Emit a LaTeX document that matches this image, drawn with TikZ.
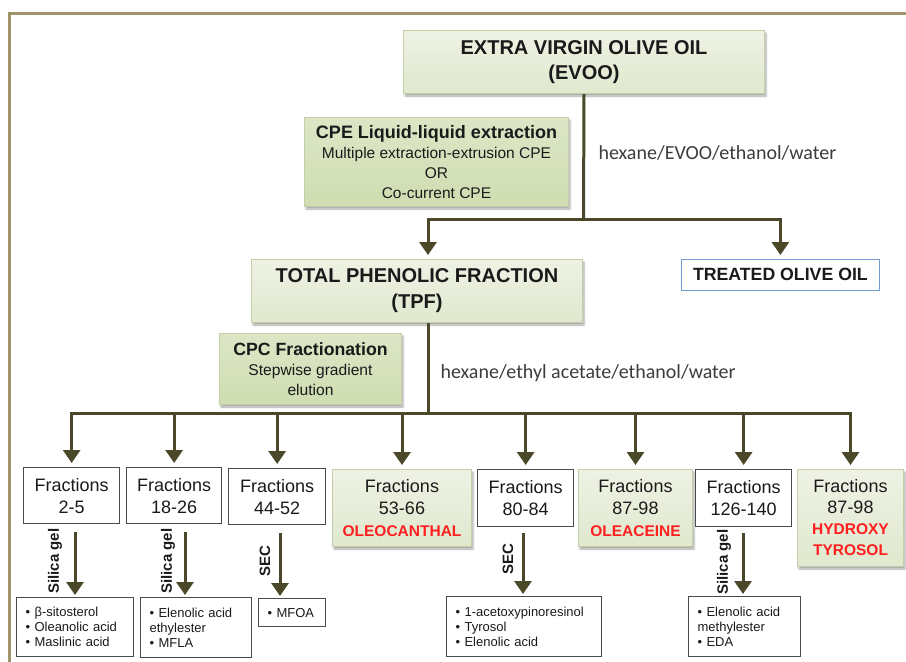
\documentclass[tikz,border=0pt]{standalone}
\usepackage{fontspec}
\setmainfont{Liberation Sans}
\newfontfamily\calfont{Carlito}
\usetikzlibrary{arrows.meta,shadows.blur}
\definecolor{figInk}{HTML}{4A4828}
\definecolor{figFrame}{HTML}{A0956A}
\definecolor{figSageTop}{HTML}{EEF2E4}
\definecolor{figSage}{HTML}{E0E8CE}
\definecolor{figMossTop}{HTML}{DCE6C6}
\definecolor{figMoss}{HTML}{CFDDB1}
\definecolor{figEdge}{HTML}{C3CFA6}
\definecolor{figGrey}{HTML}{4A4A4A}
\definecolor{figBlue}{HTML}{6F9BD2}
\definecolor{figRed}{HTML}{FF1F1F}
\definecolor{figText}{HTML}{1A1A1A}
\tikzset{
  sagebox/.style={draw=figEdge, top color=figSageTop, bottom color=figSage, line width=1pt,
                  inner sep=0pt, align=center, anchor=north west, text=figText,
                  blur shadow={shadow xshift=1.5pt, shadow yshift=-2.5pt, shadow blur radius=2pt, shadow opacity=35}},
  mossbox/.style={sagebox, top color=figMossTop, bottom color=figMoss},
  fracbox/.style={draw=figGrey, fill=white, line width=1.3pt, inner sep=0pt, align=center,
                  anchor=north west, text=figText, font=\fontsize{18}{22}\selectfont},
  listbox/.style={draw=figGrey, fill=white, line width=1.3pt, inner xsep=9pt, inner ysep=0pt,
                  align=left, anchor=north west, text=figText, font=\fontsize{13}{15}\selectfont},
  solvent/.style={anchor=west, text=figText!85, font=\calfont\fontsize{20}{24}\selectfont},
  stepname/.style={rotate=90, text=figText, font=\bfseries\fontsize{15}{15}\selectfont},
  link/.style={draw=figInk, line width=3pt},
  linkarrow/.style={link, -{Triangle[width=17pt,length=13pt]}, shorten >=4pt}
}

\begin{document}
\begin{tikzpicture}[x=1pt, y=-1pt]
\useasboundingbox (0,0) rectangle (906,662);

% outer frame
\draw[figFrame, line width=3pt] (906,13) -- (9,13) -- (9,662);

% first extraction step
\node[sagebox, minimum width=361pt, minimum height=63pt, font=\bfseries\fontsize{20}{25}\selectfont]
  (evoo) at (403,30) {EXTRA VIRGIN OLIVE OIL\\(EVOO)};
\node[mossbox, minimum width=264pt, minimum height=89pt, font=\fontsize{15.5}{20}\selectfont]
  (cpe) at (304,117) {{\bfseries\fontsize{18}{20}\selectfont CPE Liquid-liquid extraction}\\
  Multiple extraction-extrusion CPE\\OR\\Co-current CPE};
\node[solvent] (solv1) at (595,153) {hexane/EVOO/ethanol/water};

\node[sagebox, minimum width=331pt, minimum height=63pt, font=\bfseries\fontsize{20}{26}\selectfont]
  (tpf) at (251,259) {TOTAL PHENOLIC FRACTION\\(TPF)};
\node[draw=figBlue, fill=white, line width=0.8pt, inner sep=0pt, anchor=north west,
      minimum width=198pt, minimum height=31pt, text=figText, font=\bfseries\fontsize{17.7}{20}\selectfont]
  (treated) at (681,259) {TREATED OLIVE OIL};

\coordinate (hub1) at (583.5,219);
\coordinate (tpfx) at (428,0);
\draw[link] (evoo.south) -- (hub1);
\draw[linkarrow] (hub1) -| (tpf.north -| tpfx);
\draw[linkarrow] (hub1) -| (treated.north);

% CPC step
\node[mossbox, minimum width=182pt, minimum height=71pt, font=\fontsize{15.6}{20}\selectfont]
  (cpc) at (219,333) {{\bfseries\fontsize{17.7}{20}\selectfont CPC Fractionation}\\
  Stepwise gradient\\elution};
\node[solvent] (solv2) at (437,373) {hexane/ethyl acetate/ethanol/water};

% fractions
\node[fracbox, minimum width=96pt, minimum height=56pt] (f1) at (23,467) {Fractions\\2-5};
\node[fracbox, minimum width=95pt, minimum height=56pt] (f2) at (126,467) {Fractions\\18-26};
\node[fracbox, minimum width=97pt, minimum height=56pt] (f3) at (228,468) {Fractions\\44-52};
\node[sagebox, minimum width=139pt, minimum height=77pt, font=\fontsize{18}{22}\selectfont]
  (f4) at (332,469) {Fractions\\53-66\\{\color{figRed}\bfseries\fontsize{15.5}{22}\selectfont OLEOCANTHAL}};
\node[fracbox, minimum width=96pt, minimum height=57pt] (f5) at (477,469) {Fractions\\80-84};
\node[sagebox, minimum width=114pt, minimum height=77pt, font=\fontsize{18}{22}\selectfont]
  (f6) at (578,469) {Fractions\\87-98\\{\color{figRed}\bfseries\fontsize{15.5}{22}\selectfont OLEACEINE}};
\node[fracbox, minimum width=96pt, minimum height=57pt] (f7) at (695,469) {Fractions\\126-140};
\node[sagebox, minimum width=106pt, minimum height=97pt, font=\fontsize{18}{21}\selectfont]
  (f8) at (797,469) {Fractions\\87-98\\{\color{figRed}\bfseries\fontsize{15.5}{20}\selectfont HYDROXY}\\
  {\color{figRed}\bfseries\fontsize{15.5}{20}\selectfont TYROSOL}};

\coordinate (hub2) at (428,413);
\draw[link] (tpf.south -| tpfx) -- (hub2);
\foreach \f in {f1,f2,f3,f4,f5,f6,f7,f8}
  \draw[linkarrow] (hub2) -| (\f.north);

% isolated compounds
\node[listbox, text width=99pt, minimum height=59pt] (s1) at (16,597)
  {• β-sitosterol\\• Oleanolic acid\\• Maslinic acid};
\node[listbox, text width=93pt, minimum height=60pt] (s2) at (140,597)
  {• Elenolic acid\\ethylester\\• MFLA};
\node[listbox, text width=49pt, minimum height=28pt] (s3) at (258,598) {• MFOA};
\node[listbox, text width=137pt, minimum height=60pt] (s4) at (446,596)
  {• 1-acetoxypinoresinol\\• Tyrosol\\• Elenolic acid};
\node[listbox, text width=94pt, minimum height=60pt] (s5) at (688,596)
  {• Elenolic acid\\methylester\\• EDA};

\coordinate (a1) at (75,0);
\coordinate (a2) at (185,0);
\coordinate (a3) at (280,0);
\coordinate (a5) at (523,0);
\coordinate (a7) at (743,0);
\draw[linkarrow, shorten <=8pt, shorten >=2pt] (f1.south -| a1) -- (s1.north -| a1);
\draw[linkarrow, shorten <=8pt, shorten >=2pt] (f2.south -| a2) -- (s2.north -| a2);
\draw[linkarrow, shorten <=8pt, shorten >=2pt] (f3.south -| a3) -- (s3.north -| a3);
\draw[linkarrow, shorten <=6pt, shorten >=2pt] (f5.south -| a5) -- (s4.north -| a5);
\draw[linkarrow, shorten <=6pt, shorten >=2pt] (f7.south -| a7) -- (s5.north -| a7);

\node[stepname] (m1) at (55,561) {Silica gel};
\node[stepname] (m2) at (168,561) {Silica gel};
\node[stepname] (m3) at (265,561) {SEC};
\node[stepname] (m5) at (508,559) {SEC};
\node[stepname] (m7) at (724,562) {Silica gel};
\end{tikzpicture}
\end{document}
